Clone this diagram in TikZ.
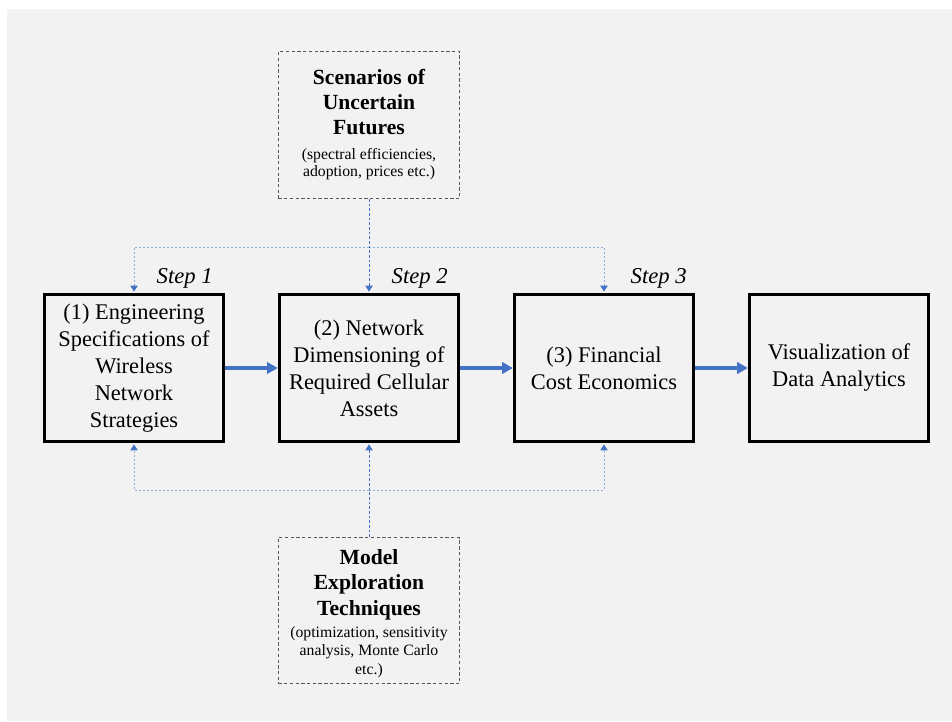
\documentclass[tikz,border=0pt]{standalone}
\usepackage{fontspec}
\setmainfont{Liberation Serif}
\usetikzlibrary{arrows.meta}
\definecolor{bgc}{HTML}{F2F2F2}
\definecolor{blu}{HTML}{4472C4}
\definecolor{lblu}{HTML}{8FAADC}
\definecolor{dgry}{HTML}{595959}
\tikzset{
  mainbox/.style={draw=black, line width=2.25pt, minimum width=134.5pt, minimum height=110.5pt,
     align=center, inner sep=0pt, font=\fontsize{16.8}{20.25}\selectfont},
  scenbox/.style={draw=dgry, line width=0.75pt, dash pattern=on 2.5pt off 1.8pt, minimum width=136pt,
     align=center, inner sep=0pt, font=\fontsize{11.8}{12.75}\selectfont},
  steplbl/.style={anchor=base east, font=\fontsize{17}{20}\selectfont\itshape, inner sep=0pt},
  bigarrow/.style={draw=blu, line width=3pt, -{Triangle[length=8pt,width=8.5pt]}},
  fbline/.style={draw=lblu, line width=0.75pt, dash pattern=on 1.5pt off 1.5pt},
  fbarrow/.style={fbline, -{Triangle[length=4.5pt,width=5.5pt,color=blu]}},
  cline/.style={draw=blu, line width=0.75pt, dash pattern=on 2pt off 1.5pt, -{Triangle[length=4.5pt,width=5.5pt]}}
}
\begin{document}
\begin{tikzpicture}[x=0.75pt,y=-0.75pt]
\useasboundingbox (0,0) rectangle (952,721);
\fill[bgc] (7,9) rectangle (952,721);

\node[mainbox] (b1) at (134,368) {(1) Engineering\\Specifications of\\Wireless\\Network\\Strategies};
\node[mainbox] (b2) at (369,368) {(2) Network\\Dimensioning of\\Required Cellular\\Assets};
\node[mainbox] (b3) at (604,368) {(3) Financial\\Cost Economics};
\node[mainbox] (b4) at (839,368) {Visualization of\\Data Analytics};

\node[steplbl] (s1) at (213,283) {Step 1};
\node[steplbl] (s2) at (448,283) {Step 2};
\node[steplbl] (s3) at (687,283) {Step 3};

\node[scenbox, minimum height=110.25pt] (top) at (369,125)
  {{\bfseries\fontsize{16.2}{18.75}\selectfont Scenarios of}\\[6pt]
   {\bfseries\fontsize{16.2}{18.75}\selectfont Uncertain}\\[6pt]
   {\bfseries\fontsize{16.2}{18.75}\selectfont Futures}\\[6pt]
   (spectral efficiencies,\\adoption, prices etc.)};
\node[scenbox, minimum height=109.5pt] (bot) at (369,610.5)
  {{\bfseries\fontsize{16.2}{18.75}\selectfont\rule{0pt}{16pt}Model}\\[6pt]
   {\bfseries\fontsize{16.2}{18.75}\selectfont Exploration}\\[4pt]
   {\bfseries\fontsize{16.2}{18.75}\selectfont Techniques}\\[3.5pt]
   (optimization, sensitivity\\[1pt]analysis, Monte Carlo\\[1.5pt]etc.)};

\draw[bigarrow] (b1.east) -- (b2.west);
\draw[bigarrow] (b2.east) -- (b3.west);
\draw[bigarrow] (b3.east) -- (b4.west);

\coordinate (tl) at (369,247);
\coordinate (bl) at (369,490);
\draw[fbarrow] (tl) -| ([yshift=0.9pt]b1.north);
\draw[fbarrow] (tl) -| ([yshift=0.9pt]b3.north);
\draw[fbarrow] (bl) -| ([yshift=-0.9pt]b1.south);
\draw[fbarrow] (bl) -| ([yshift=-0.9pt]b3.south);

\draw[cline] (top.south) -- ([yshift=0.9pt]b2.north);
\draw[cline] (bot.north) -- ([yshift=-0.9pt]b2.south);
\end{tikzpicture}
\end{document}
